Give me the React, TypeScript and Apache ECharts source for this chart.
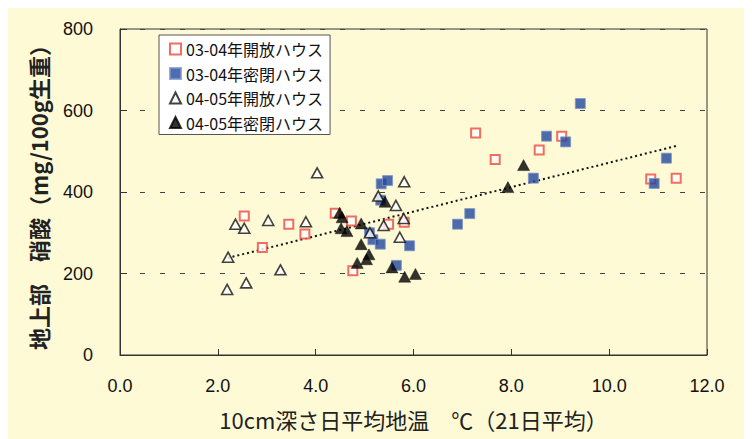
import React, { useEffect, useRef } from "react";
import * as echarts from "echarts";

const seriesNames = [
  "03-04年開放ハウス",
  "03-04年密閉ハウス",
  "04-05年開放ハウス",
  "04-05年密閉ハウス",
];

const open0304: [number, number][] = [
  [2.54, 341], [2.91, 264], [3.45, 321], [3.78, 297], [4.40, 348],
  [4.73, 329], [4.76, 207], [5.49, 321], [5.81, 326], [7.27, 545],
  [7.67, 480], [8.57, 503], [9.03, 537], [10.85, 432], [11.37, 434],
];

const closed0304: [number, number][] = [
  [5.34, 420], [5.47, 428], [5.33, 380], [5.10, 300], [5.17, 283],
  [5.32, 272], [5.65, 220], [5.92, 268], [6.90, 321], [7.15, 347],
  [8.45, 434], [8.72, 537], [9.11, 523], [9.41, 617], [10.92, 421],
  [11.17, 483],
];

const open0405: [number, number][] = [
  [4.03, 447], [2.36, 321], [2.54, 311], [3.03, 330], [3.80, 327],
  [2.21, 240], [3.28, 209], [2.58, 177], [2.19, 161], [5.81, 425],
  [5.28, 390], [5.64, 367], [5.39, 318], [5.80, 335], [5.11, 300],
  [5.72, 289],
];

const closed0405: [number, number][] = [
  [4.49, 349], [4.54, 338], [4.52, 311], [4.64, 304], [4.93, 323],
  [5.42, 376], [4.93, 272], [5.09, 247], [5.04, 235], [4.85, 226],
  [5.56, 215], [5.82, 192], [6.04, 199], [7.93, 412], [8.25, 466],
];

const trendLine: [number, number][] = [
  [2.2, 238],
  [11.37, 513],
];

const xTicks = [0, 2, 4, 6, 8, 10, 12];
const yTicks = [0, 200, 400, 600, 800];

const xAxisTitle = "10cm深さ日平均地温　℃（21日平均）";
const yAxisTitle = "地上部　硝酸（mg/100g生重）";

const BG = "#FFFAD6";
const JP = "'Noto Sans CJK JP', 'Noto Sans', sans-serif";
const NUM = "'Liberation Sans', Arial, 'Noto Sans CJK JP', sans-serif";

export default function App() {
  const ref = useRef<HTMLDivElement>(null);
  useEffect(() => {
    if (!ref.current) return;
    const chart = echarts.init(ref.current, null, { renderer: "svg" });
    chart.setOption({
      animation: false,
      backgroundColor: BG,
      grid: {
        left: 112,
        top: 21,
        width: 587,
        height: 326,
        show: true,
        borderColor: "#333",
        borderWidth: 1,
        backgroundColor: BG,
      },
      legend: {
        orient: "vertical",
        left: 151,
        top: 27,
        data: [
          { name: seriesNames[0], icon: "rect" },
          { name: seriesNames[1], icon: "rect" },
          { name: seriesNames[2], icon: "triangle" },
          { name: seriesNames[3], icon: "triangle" },
        ],
        itemWidth: 11,
        itemHeight: 11,
        itemGap: 8.5,
        padding: [6, 7, 4, 10],
        backgroundColor: "#fff",
        borderColor: "#555",
        borderWidth: 1,
        borderRadius: 0,
        selectedMode: false,
        textStyle: { fontSize: 16, color: "#111", fontFamily: JP },
      },
      xAxis: {
        type: "value",
        min: xTicks[0],
        max: xTicks[xTicks.length - 1],
        interval: 2,
        name: xAxisTitle,
        nameLocation: "middle",
        nameGap: 53,
        nameTextStyle: { fontSize: 22, color: "#222", fontFamily: JP },
        axisLine: { show: true, lineStyle: { color: "#333", width: 1 } },
        axisTick: { show: true, inside: true, length: 6, lineStyle: { color: "#333" } },
        axisLabel: {
          margin: 22,
          fontSize: 18,
          color: "#111",
          fontFamily: NUM,
          formatter: (v: number) => v.toFixed(1),
        },
        splitLine: { show: false },
      },
      yAxis: {
        type: "value",
        min: yTicks[0],
        max: yTicks[yTicks.length - 1],
        interval: 200,
        name: yAxisTitle,
        nameLocation: "middle",
        nameGap: 71,
        nameRotate: 90,
        nameTextStyle: { fontSize: 22, fontWeight: "bold", color: "#222", fontFamily: JP },
        axisLine: { show: true, lineStyle: { color: "#333", width: 1 } },
        axisTick: { show: true, inside: true, length: 7, lineStyle: { color: "#333" } },
        axisLabel: { margin: 27, fontSize: 18, color: "#111", fontFamily: NUM },
        splitLine: {
          show: true,
          lineStyle: { color: "#444", width: 1, type: [5, 15] },
        },
      },
      series: [
        {
          name: seriesNames[0],
          type: "scatter",
          symbol: "rect",
          symbolSize: 9,
          data: open0304,
          itemStyle: { color: "#fff", borderColor: "#EC4A3C", borderWidth: 2 },
        },
        {
          name: seriesNames[1],
          type: "scatter",
          symbol: "rect",
          symbolSize: 10,
          data: closed0304,
          itemStyle: { color: "#23479B", borderColor: "#7D96CC", borderWidth: 1 },
        },
        {
          name: seriesNames[2],
          type: "scatter",
          symbol: "triangle",
          symbolSize: [11, 10],
          data: open0405,
          itemStyle: { color: "#fff", borderColor: "#111", borderWidth: 1.6 },
        },
        {
          name: seriesNames[3],
          type: "scatter",
          symbol: "triangle",
          symbolSize: [12, 11],
          data: closed0405,
          itemStyle: { color: "#000", borderColor: "#000", borderWidth: 0.5 },
        },
        {
          name: "trend",
          type: "line",
          data: trendLine,
          symbol: "none",
          silent: true,
          z: 1,
          lineStyle: { color: "#111", width: 2, type: [2, 3] },
        },
      ],
    });
    return () => chart.dispose();
  }, []);
  return <div ref={ref} style={{ width: 736, height: 431 }} />;
}
